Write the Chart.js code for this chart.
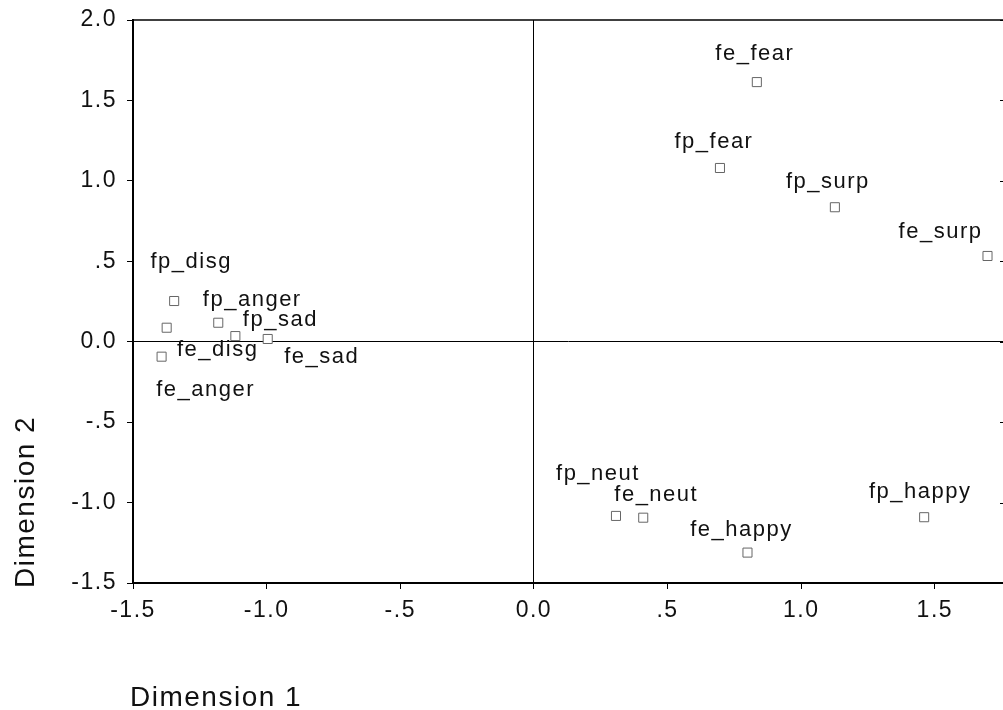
<!DOCTYPE html>
<html>
<head>
<meta charset="utf-8">
<script src="https://cdn.jsdelivr.net/npm/chart.js@4/dist/chart.umd.min.js"></script>
<style>
  html, body { margin: 0; padding: 0; background: #fff; overflow: hidden; }
  #wrap { position: relative; width: 1003px; height: 710px; }
</style>
</head>
<body>
<div id="wrap"><canvas id="mds" width="1003" height="710"></canvas></div>
<script>
// Stimulus coordinates in the two-dimensional solution
const labels = ['fe_fear', 'fp_fear', 'fp_surp', 'fe_surp', 'fp_happy', 'fe_happy', 'fe_neut',
  'fp_neut', 'fp_disg', 'fp_anger', 'fp_sad', 'fe_sad', 'fe_disg', 'fe_anger'];
const dim1 = [0.834, 0.696, 1.126, 1.697, 1.460, 0.799, 0.409, 0.307, -1.346, -1.181, -1.117, -0.996, -1.374, -1.393];
const dim2 = [1.614, 1.080, 0.836, 0.533, -1.091, -1.311, -1.094, -1.083, 0.253, 0.118, 0.035, 0.017, 0.087, -0.093];

// tick values shown on each axis
const xTicks = [-1.5, -1.0, -0.5, 0.0, 0.5, 1.0, 1.5];
const yTicks = [-1.5, -1.0, -0.5, 0.0, 0.5, 1.0, 1.5, 2.0];

// where each name sits relative to its square (pixels)
const labelOffsets = [[-2, -28], [-6, -26], [-7, -25], [-47, -24], [-4, -25], [-6, -23], [13, -23],
  [-18, -42], [17, -39], [34, -23], [45, -16], [54, 18], [51, 22], [44, 33]];

const FONT = '"Liberation Sans", Arial, sans-serif';
const SPACING = '1.5px';

function fmt(v) {
  if (Math.abs(v) < 1e-9) return '0.0';
  let s = Math.abs(v).toFixed(1);
  if (s.startsWith('0.')) s = s.slice(1);
  return (v < 0 ? '-' : '') + s;
}

const setTicks = (values) => (scale) => {
  scale.ticks = values.map(value => ({ value }));
};

const spacingPlugin = {
  id: 'spacing',
  beforeDraw(chart) {
    chart.ctx.letterSpacing = SPACING;
  },
};

const extrasPlugin = {
  id: 'extras',
  afterDatasetsDraw(chart) {
    const ctx = chart.ctx;
    const meta = chart.getDatasetMeta(0);
    ctx.save();
    ctx.letterSpacing = SPACING;
    ctx.fillStyle = '#111';
    ctx.font = '22px ' + FONT;
    ctx.textAlign = 'center';
    ctx.textBaseline = 'middle';
    meta.data.forEach((pt, i) => {
      const [dx, dy] = labelOffsets[i];
      ctx.fillText(labels[i], pt.x + dx, pt.y + dy);
    });
    ctx.restore();
  },
  afterDraw(chart) {
    const ctx = chart.ctx;
    const area = chart.chartArea;
    const yScale = chart.scales.y;
    ctx.save();
    ctx.strokeStyle = '#000';
    ctx.lineWidth = 1.5;
    ctx.beginPath();
    ctx.moveTo(area.left, area.top);
    ctx.lineTo(area.right, area.top);
    ctx.stroke();
    // small inward ticks on the right edge
    ctx.lineWidth = 1;
    yScale.ticks.forEach(t => {
      const y = Math.round(yScale.getPixelForValue(t.value)) + 0.5;
      ctx.beginPath();
      ctx.moveTo(area.right - 3, y);
      ctx.lineTo(area.right, y);
      ctx.stroke();
    });
    // axis titles
    ctx.letterSpacing = SPACING;
    ctx.fillStyle = '#111';
    ctx.font = '28px ' + FONT;
    ctx.textBaseline = 'alphabetic';
    ctx.textAlign = 'left';
    ctx.fillText('Dimension 1', 130, 706);
    ctx.translate(34, 588);
    ctx.rotate(-Math.PI / 2);
    ctx.fillText('Dimension 2', 0, 0);
    ctx.restore();
  },
};

const points = dim1.map((x, i) => ({ x, y: dim2[i] }));

const gridFor = () => ({
  drawOnChartArea: true,
  color: (c) => (c.tick && Math.abs(c.tick.value) < 1e-9 ? '#000' : 'rgba(0,0,0,0)'),
  lineWidth: 1,
  tickColor: '#000',
  tickLength: 6,
});

new Chart(document.getElementById('mds'), {
  type: 'scatter',
  data: {
    datasets: [{
      data: points,
      pointStyle: 'rect',
      pointRadius: 6.4,
      pointHoverRadius: 6.4,
      borderWidth: 1,
      borderColor: '#666',
      backgroundColor: '#fff',
    }],
  },
  options: {
    responsive: false,
    animation: false,
    events: [],
    layout: { autoPadding: false, padding: { top: 20, right: 0, bottom: 0, left: 0 } },
    plugins: {
      legend: { display: false },
      tooltip: { enabled: false },
    },
    scales: {
      x: {
        type: 'linear',
        min: -1.5,
        max: 1.755,
        afterBuildTicks: setTicks(xTicks),
        afterFit: (s) => { s.height = 127; s.paddingLeft = 0; s.paddingRight = 0; },
        border: { display: true, color: '#000', width: 2 },
        grid: gridFor(),
        ticks: {
          autoSkip: false,
          maxRotation: 0,
          padding: 8,
          color: '#111',
          font: { family: FONT, size: 23 },
          callback: (v) => fmt(v),
        },
      },
      y: {
        type: 'linear',
        min: -1.5,
        max: 2.0,
        afterBuildTicks: setTicks(yTicks),
        afterFit: (s) => { s.width = 133; s.paddingTop = 0; s.paddingBottom = 0; },
        border: { display: true, color: '#000', width: 2 },
        grid: gridFor(),
        ticks: {
          autoSkip: false,
          padding: 10,
          color: '#111',
          font: { family: FONT, size: 23 },
          callback: (v) => fmt(v),
        },
      },
    },
  },
  plugins: [spacingPlugin, extrasPlugin],
});
</script>
</body>
</html>
